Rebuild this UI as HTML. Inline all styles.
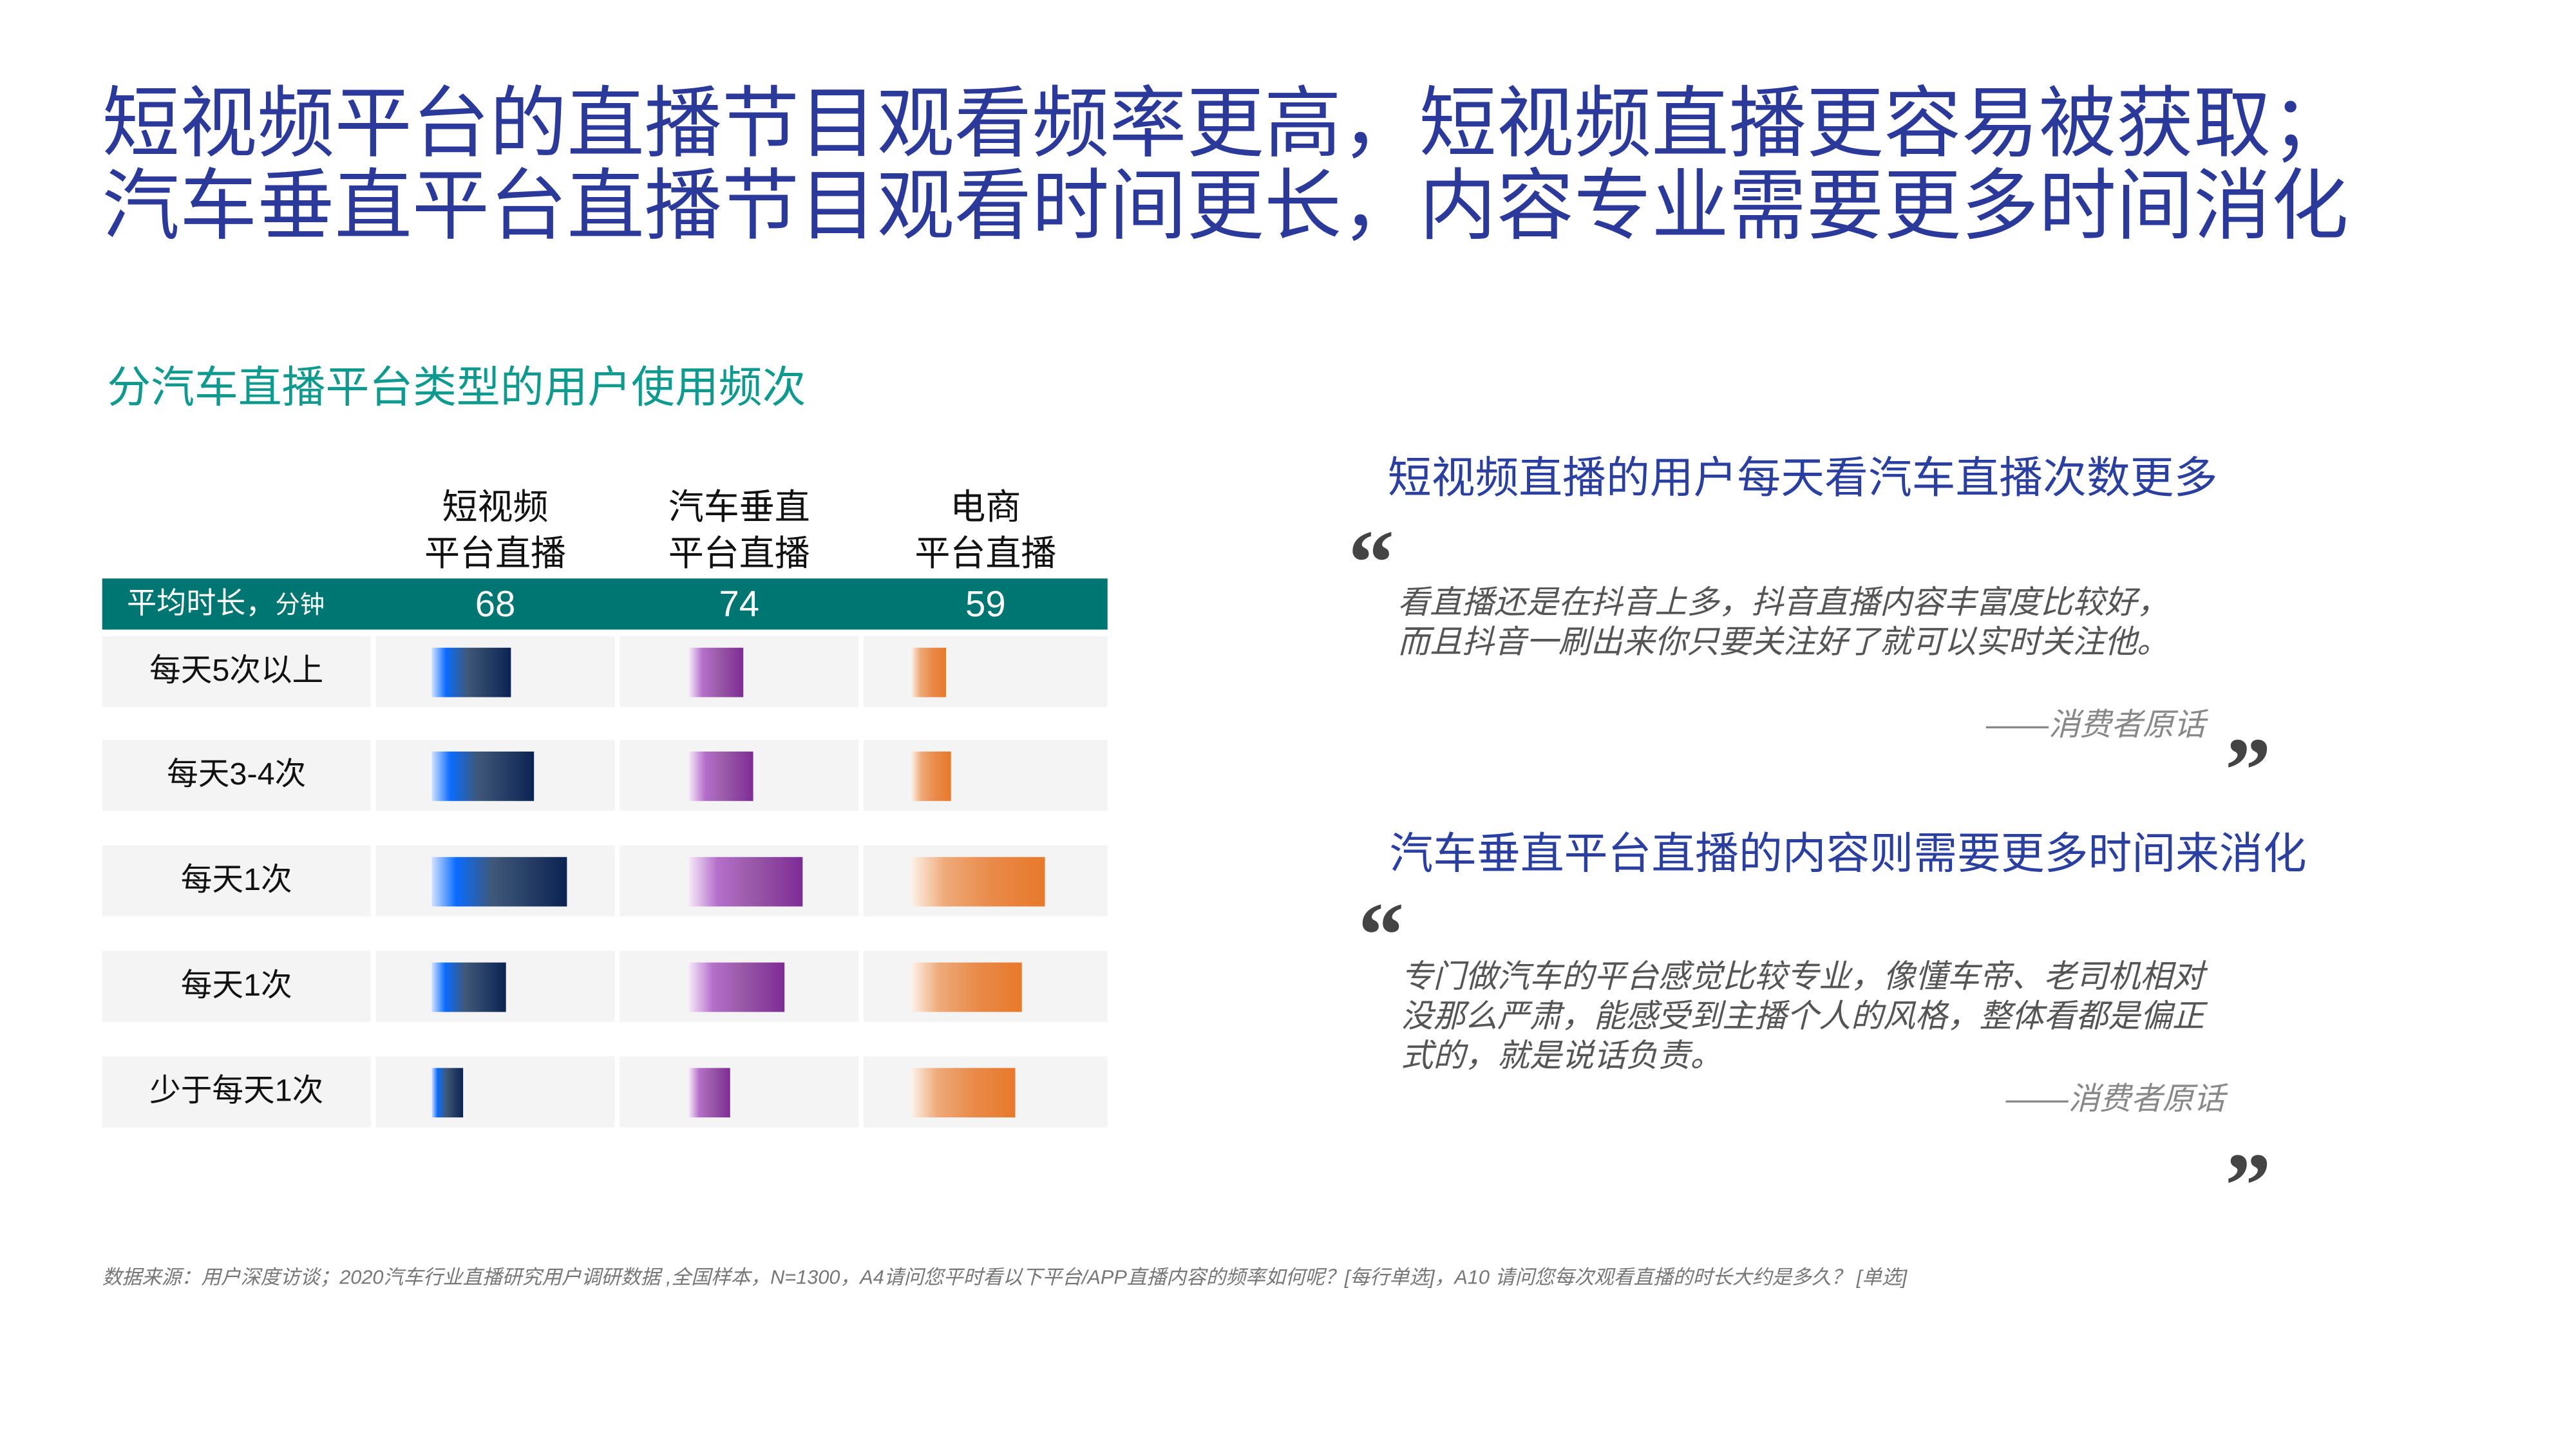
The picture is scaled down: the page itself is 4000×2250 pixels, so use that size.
<!DOCTYPE html>
<html><head><meta charset="utf-8">
<style>
html,body{margin:0;padding:0;background:#fff;}
body{width:4000px;height:2250px;overflow:hidden;position:relative;}
#stage{position:absolute;left:0;top:0;width:1563px;height:879px;transform:scale(2.5592);transform-origin:0 0;font-family:"Liberation Sans","Noto Sans CJK SC",sans-serif;}
.abs{position:absolute;white-space:nowrap;}
.title{left:62px;font-size:47px;color:#2b3a9a;line-height:50px;}
.sub{left:65px;top:213px;font-size:26.5px;color:#0e9a8e;}
.hd{font-size:21.5px;color:#111;text-align:center;line-height:28px;}
.cell{position:absolute;background:#f4f4f4;}
.rl{font-size:19px;color:#111;text-align:center;}
.h2{font-size:26.5px;color:#2b3fa0;}
.q{font-size:19.5px;color:#555;font-style:italic;line-height:24px;}
.mark{font-family:"Liberation Serif",serif;font-weight:bold;font-size:56px;color:#444;line-height:40px;height:30px;}
.src{font-size:19px;color:#888;font-style:italic;}
.foot{left:62px;top:766px;font-size:12px;color:#777;font-style:italic;}
</style></head>
<body>
<div id="stage">
  <div class="abs title" style="top:50px">短视频平台的直播节目观看频率更高，短视频直播更容易被获取；</div>
  <div class="abs title" style="top:100px">汽车垂直平台直播节目观看时间更长，内容专业需要更多时间消化</div>
  <div class="abs sub">分汽车直播平台类型的用户使用频次</div>

  <div id="table">
    <div class="abs hd" style="left:228px;top:294px;width:145px">短视频<br>平台直播</div>
    <div class="abs hd" style="left:376px;top:294px;width:145px">汽车垂直<br>平台直播</div>
    <div class="abs hd" style="left:524px;top:294px;width:148px">电商<br>平台直播</div>
    <div class="abs" style="left:62px;top:351px;width:610px;height:31px;background:#007672"></div>
    <div class="abs" style="left:77px;top:354px;font-size:18px;color:#fff;line-height:25px">平均时长，<span style="font-size:15px">分钟</span></div>
    <div id="avgs"></div>
    <div id="rows"></div>
  </div>

  <div class="abs h2" style="left:842px;top:268px">短视频直播的用户每天看汽车直播次数更多</div>
  <div class="abs mark" style="left:818px;top:322px">“</div>
  <div class="abs q" style="left:848px;top:354px">看直播还是在抖音上多，抖音直播内容丰富度比较好，<br>而且抖音一刷出来你只要关注好了就可以实时关注他。</div>
  <div class="abs src" style="left:1205px;top:425px">——消费者原话</div>
  <div class="abs mark" style="left:1350px;top:448px">”</div>

  <div class="abs h2" style="left:843px;top:496px">汽车垂直平台直播的内容则需要更多时间来消化</div>
  <div class="abs mark" style="left:824px;top:548px">“</div>
  <div class="abs q" style="left:850px;top:581px">专门做汽车的平台感觉比较专业，像懂车帝、老司机相对<br>没那么严肃，能感受到主播个人的风格，整体看都是偏正<br>式的，就是说话负责。</div>
  <div class="abs src" style="left:1217px;top:652px">——消费者原话</div>
  <div class="abs mark" style="left:1350px;top:700px">”</div>

  <div class="abs foot">数据来源：用户深度访谈；2020汽车行业直播研究用户调研数据 ,全国样本，N=1300，A4请问您平时看以下平台/APP直播内容的频率如何呢？[每行单选]，A10 请问您每次观看直播的时长大约是多久？ [单选]</div>
</div>
<script>
const platforms = ["短视频平台直播", "汽车垂直平台直播", "电商平台直播"];
const avgMinutes = ["68", "74", "59"];
const frequencies = ["每天5次以上", "每天3-4次", "每天1次", "每天1次", "少于每天1次"];
const shortVideo = [24, 31, 41, 22.5, 9.5];
const autoVertical = [16.5, 19.5, 34.5, 29, 12.5];
const ecommerce = [10.5, 12, 40.5, 33.5, 31.5];

const series = [shortVideo, autoVertical, ecommerce];
const colX = [228, 376, 524];
const colW = [145, 145, 148];
const barStart = [262, 418, 553];
const rowTop = [386, 449, 513, 577, 641];
const rowH = 43;
const grads = [
  "linear-gradient(90deg,#cfe2ff 0%,#0a6cff 18%,#3f5878 45%,#0b2352 100%)",
  "linear-gradient(90deg,#f5e8f8 0%,#b56fcb 25%,#9a5aa8 55%,#7e2b96 100%)",
  "linear-gradient(90deg,#fdf1e8 0%,#eeaa78 25%,#e98a4a 60%,#e8792a 100%)"
];
function xScale(v){ return v * 2; }

const avgs = document.getElementById('avgs');
avgMinutes.forEach((a,i)=>{
  const d = document.createElement('div');
  
  
  d.className = 'abs';
  d.style.cssText = `left:${colX[i]}px;top:352px;width:${colW[i]}px;text-align:center;color:#fff;font-size:22px;line-height:30px`;
  d.textContent = a;
  avgs.appendChild(d);
});

const rows = document.getElementById('rows');
frequencies.forEach((f,r)=>{
  const lab = document.createElement('div');
  
  
  lab.className = 'cell';
  lab.style.cssText = `left:62px;top:${rowTop[r]}px;width:163px;height:${rowH}px`;
  lab.innerHTML = `<div class="rl" style="line-height:${rowH}px">${f}</div>`;
  rows.appendChild(lab);
  series.forEach((s,c)=>{
    const cell = document.createElement('div');
    
    
    cell.className = 'cell';
    cell.style.cssText = `left:${colX[c]}px;top:${rowTop[r]}px;width:${colW[c]}px;height:${rowH}px`;
    rows.appendChild(cell);
    const bar = document.createElement('div');
    
    
    bar.className = 'abs';
    bar.style.cssText = `left:${barStart[c]}px;top:${rowTop[r]+7}px;width:${xScale(s[r])}px;height:30px;background:${grads[c]}`;
    bar.title = platforms[c] + ' ' + f;
    rows.appendChild(bar);
  });
});
</script>
</body></html>
